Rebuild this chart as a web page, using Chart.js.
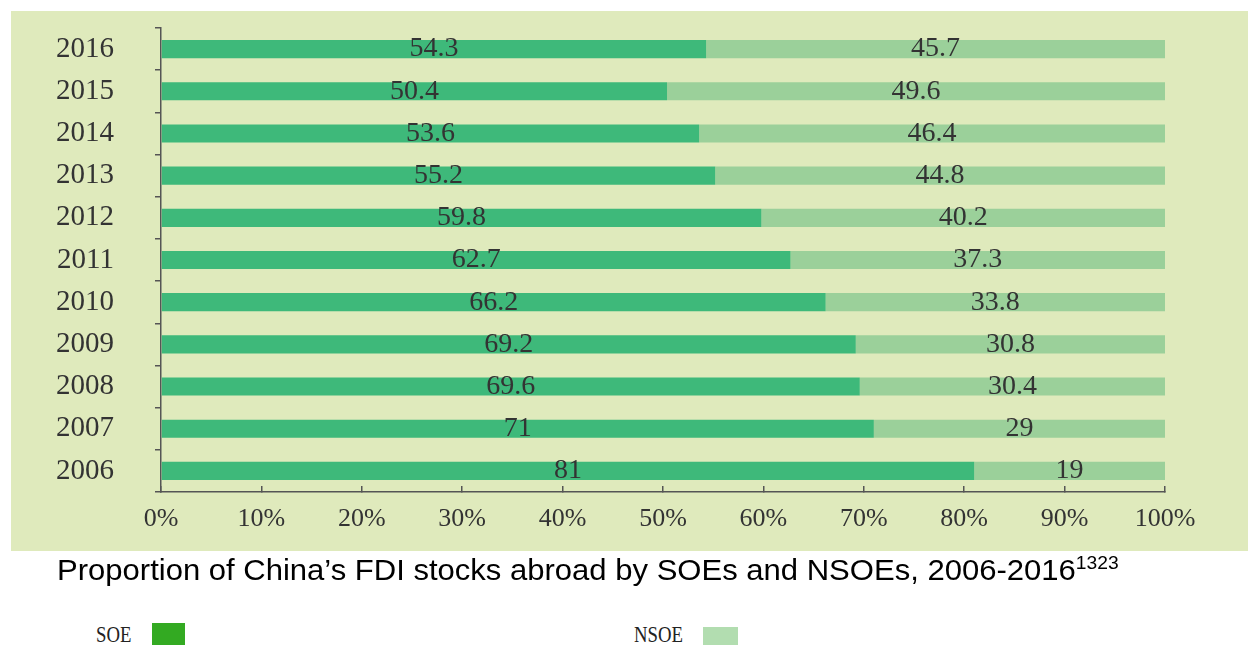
<!DOCTYPE html>
<html>
<head>
<meta charset="utf-8">
<script src="https://cdn.jsdelivr.net/npm/chart.js@4"></script>
<style>
  body { margin: 0; background: #fff; width: 1248px; height: 645px; overflow: hidden; position: relative; }
  #bg { position: absolute; left: 11px; top: 11px; width: 1237px; height: 540px; background: #dfeabc; }
  #grafik { position: absolute; left: 0; top: 0; }
  #judul { position: absolute; left: 57px; top: 554px; font: 29px "Liberation Sans", Arial, sans-serif; color: #000; white-space: nowrap; transform: scaleX(1.07); transform-origin: left top; }
  #judul sup { font-size: 18px; vertical-align: 0; position: relative; top: -11px; }
  .leg { position: absolute; top: 621px; font: 24px "Liberation Serif", serif; color: #222; transform: scaleX(0.78); transform-origin: left top; }
  .kotak { position: absolute; }
</style>
</head>
<body>
<div id="bg"></div>
<canvas id="grafik" width="1248" height="555"></canvas>
<div id="judul">Proportion of China’s FDI stocks abroad by SOEs and NSOEs, 2006-2016<sup>1323</sup></div>
<div class="leg" style="left:96px">SOE</div>
<div class="kotak" style="left:152px;top:623px;width:33px;height:22px;background:#33aa22"></div>
<div class="leg" style="left:634px">NSOE</div>
<div class="kotak" style="left:703px;top:627px;width:35px;height:18px;background:#b2ddb0"></div>
<script>
const tahun = ['2006', '2007', '2008', '2009', '2010', '2011', '2012', '2013', '2014', '2015', '2016'];
const soe = [81, 71, 69.6, 69.2, 66.2, 62.7, 59.8, 55.2, 53.6, 50.4, 54.3];
const nsoe = [19, 29, 30.4, 30.8, 33.8, 37.3, 40.2, 44.8, 46.4, 49.6, 45.7];
const persenTicks = [0, 10, 20, 30, 40, 50, 60, 70, 80, 90, 100];

// label angka di tengah tiap segmen batang
const labelBatang = {
    id: 'labelBatang',
    afterDatasetsDraw(chart) {
        const ctx = chart.ctx;
        ctx.save();
        ctx.font = '28px "Liberation Serif", serif';
        ctx.fillStyle = '#333';
        ctx.textAlign = 'center';
        ctx.textBaseline = 'middle';
        chart.data.datasets.forEach((ds, i) => {
            chart.getDatasetMeta(i).data.forEach((el, j) => {
                const p = el.getProps(['x', 'y', 'base'], true);
                ctx.fillText(String(ds.data[j]), (p.x + p.base) / 2, p.y);
            });
        });
        ctx.restore();
    }
};

const serif = { family: '"Liberation Serif", serif', size: 26 };

new Chart(document.getElementById('grafik').getContext('2d'), {
    type: 'bar',
    data: {
        labels: tahun,
        datasets: [
            { label: 'SOE', data: soe, backgroundColor: '#3eb97a', barPercentage: 0.43, categoryPercentage: 1 },
            { label: 'NSOE', data: nsoe, backgroundColor: '#9bd09a', barPercentage: 0.43, categoryPercentage: 1 }
        ]
    },
    options: {
        indexAxis: 'y',
        responsive: false,
        animation: false,
        layout: { padding: { left: 0, top: 28, right: 83, bottom: 0 } },
        plugins: { legend: { display: false }, tooltip: { enabled: false } },
        scales: {
            x: {
                stacked: true,
                min: 0, max: 100,
                afterBuildTicks: s => { s.ticks = persenTicks.map(v => ({ value: v })); },
                afterFit: s => { s.height = 63; s.paddingLeft = 0; s.paddingRight = 0; },
                border: { color: '#555', width: 1.5 },
                grid: { drawOnChartArea: false, tickLength: -6, color: '#555', lineWidth: 1.5 },
                ticks: { font: serif, color: '#333', padding: 18, maxRotation: 0, autoSkip: false, callback: v => v + '%' }
            },
            y: {
                stacked: true,
                reverse: true,
                afterFit: s => { s.width = 161; s.paddingTop = 0; s.paddingBottom = 0; },
                border: { color: '#555', width: 1.5 },
                grid: { drawOnChartArea: false, offset: true, tickLength: 6, color: '#555', lineWidth: 1.5 },
                ticks: { font: { family: '"Liberation Serif", serif', size: 29 }, color: '#333', padding: 41 }
            }
        }
    },
    plugins: [labelBatang]
});
</script>
</body>
</html>
